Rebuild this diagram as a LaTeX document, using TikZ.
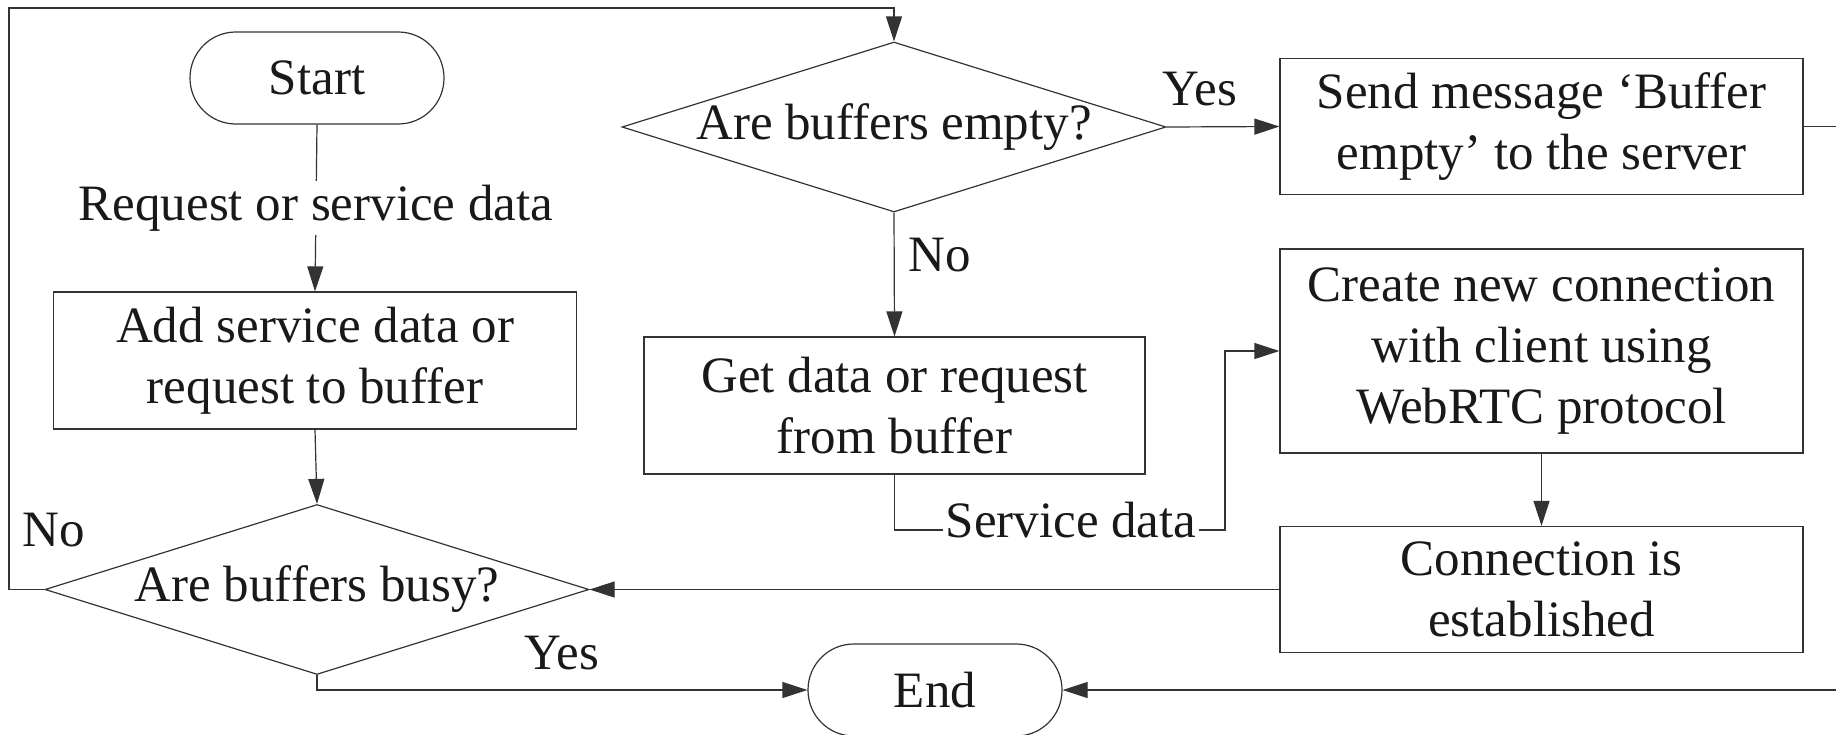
\documentclass[tikz,border=0pt]{standalone}
\usepackage{fontspec}
\setmainfont{Liberation Serif}
\usetikzlibrary{arrows.meta,shapes.geometric}
\begin{document}
\begin{tikzpicture}[x=0.5pt,y=-0.5pt,
  every node/.style={font=\fontsize{25.5pt}{30.5pt}\selectfont, text=black!90},
  ln/.style={draw=black!80, line width=0.6pt},
  arr/.style={ln, -{Triangle[length=12.5pt,width=8pt]}},
  procbox/.style={draw=black!80, line width=0.6pt, rectangle, align=center, inner sep=0pt},
  term/.style={draw=black!80, line width=0.6pt, rectangle, rounded corners=22.9pt, minimum width=127pt, minimum height=46pt, inner sep=0pt},
  decis/.style={draw=black!80, line width=0.6pt, diamond, aspect=3.2, inner sep=0pt, minimum width=272pt, minimum height=85pt},
  lbl/.style={inner sep=0pt}
]
\useasboundingbox (0,0) rectangle (1836,734);
% nodes
\node[term] (start) at (317,78) {Start};
\node[procbox, minimum width=261.5pt, minimum height=68.5pt] (add) at (315,360.5) {Add service data or\\request to buffer};
\node[decis] (busy) at (317,589.5) {};
\node[lbl] (busyt) at (busy.center) {Are buffers busy?};
\node[term] (end) at (935,690) {End};
\node[decis] (empty) at (894,127) {};
\node[lbl] (emptyt) at (empty.center) {Are buffers empty?};
\node[procbox, minimum width=261.5pt, minimum height=68pt] (send) at (1541.5,126.5) {Send message ‘Buffer\\empty’ to the server};
\node[procbox, minimum width=250.5pt, minimum height=68.5pt] (get) at (894.5,405.5) {Get data or request\\from buffer};
\node[procbox, minimum width=261.5pt, minimum height=102pt] (create) at (1541.5,351) {Create new connection\\with client using\\WebRTC protocol};
\node[procbox, minimum width=261.5pt, minimum height=63pt] (conn) at (1541.5,589.5) {Connection is\\established};
% labels
\node[lbl] (yes1) at (1200,89) {Yes};
\node[lbl] (no1) at (940,255) {No};
\node[lbl] (no2) at (54,530) {No};
\node[lbl] (yes2) at (562,653) {Yes};
\node[lbl, anchor=base, inner xsep=1pt] (sd) at (1071,537) {Service data};
% coordinates
\coordinate (lvl) at (0,530);
\coordinate (sdl) at (sd.west |- lvl);
\coordinate (sdr) at (sd.east |- lvl);
\coordinate (sdx) at (1225,530);
\coordinate (tl) at (9,8);
\coordinate (rb) at (1840,0);
% connectors
\draw[arr] (start.south) -- node[lbl, fill=white, inner ysep=2pt] (req) {Request or service data} (add.north);
\draw[arr] (add.south) -- (busy.north);
\draw[arr] (busy.west) -| (tl) -| (empty.north);
\draw[arr] (busy.south) |- (end.west);
\draw[arr] (empty.east) -- (send.west);
\draw[arr] (empty.south) -- (get.north);
\draw[ln] (get.south) |- (sdl);
\draw[arr] (sdr) -- (sdx) |- (create.west);
\draw[arr] (create.south) -- (conn.north);
\draw[arr] (conn.west) -- (busy.east);
\draw[ln] (send.east) -- (send.east -| rb);
\draw[arr] (end.east -| rb) -- (end.east);
\end{tikzpicture}
\end{document}
